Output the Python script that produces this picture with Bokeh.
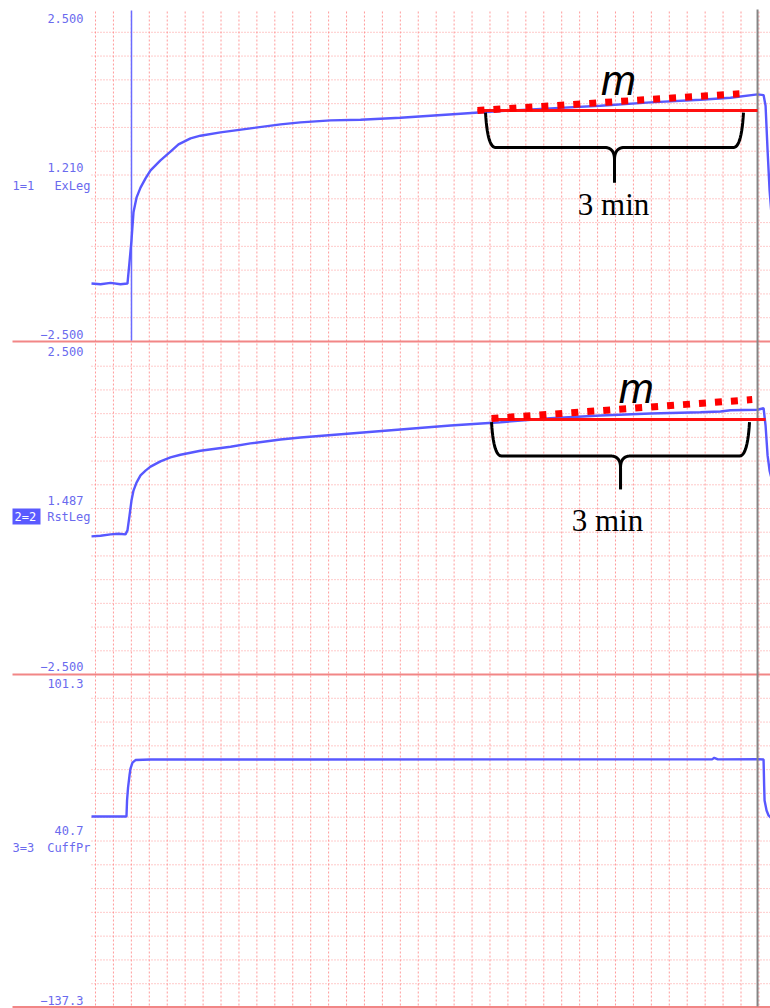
import numpy as np
from bokeh.plotting import figure
from bokeh.models import Range1d
from bokeh.core.properties import value
from bokeh.embed import file_html
from bokeh.resources import INLINE

# ---------------- data ----------------
# Channel 1: ExLeg (time s, signal)
ex_t = [0.0, 6.3, 13.3, 20.2, 25.1, 26.5, 27.9, 29.3, 31.4, 34.2, 37.7, 41.2, 48.1, 55.1, 60.7,
        69.1, 76.0, 90.0, 110.9, 131.9, 145.8, 166.8, 187.7, 215.6, 236.5, 257.5, 285.4, 320.2,
        355.1, 390.0, 424.9, 445.8, 464.7, 468.9, 470.3, 471.7, 473.1, 474.5]
ex_v = [-1.63, -1.64, -1.62, -1.64, -1.63, -1.31, -0.98, -0.56, -0.34, -0.19, -0.05, 0.07, 0.22,
        0.35, 0.46, 0.55, 0.59, 0.64, 0.70, 0.76, 0.79, 0.82, 0.83, 0.86, 0.89, 0.92, 0.96, 1.00,
        1.04, 1.09, 1.13, 1.16, 1.21, 1.20, 1.04, 0.37, -0.23, -0.61]

# Channel 2: RstLeg
rs_t = [0.0, 6.3, 13.3, 18.8, 23.7, 25.1, 26.5, 27.9, 29.3, 31.4, 34.2, 37.7, 41.2, 48.1, 55.1,
        62.1, 76.0, 97.0, 110.9, 131.9, 145.8, 180.7, 215.6, 250.5, 285.4, 320.2, 355.1, 390.0,
        424.9, 438.9, 445.8, 464.7, 468.9, 470.3, 471.7, 473.1, 474.5]
rs_v = [-0.42, -0.41, -0.39, -0.38, -0.39, -0.33, -0.11, 0.12, 0.27, 0.39, 0.50, 0.57, 0.63, 0.71,
        0.77, 0.81, 0.87, 0.93, 0.98, 1.04, 1.07, 1.13, 1.19, 1.25, 1.30, 1.36, 1.40, 1.43, 1.45,
        1.46, 1.48, 1.487, 1.51, 1.25, 0.80, 0.57, 0.45]

# Channel 3: CuffPr
cp_t = [0.0, 24.4, 24.8, 25.5, 26.5, 27.2, 28.6, 30.7, 41.2, 145.8, 300.0, 433.0, 434.5, 437.0,
        464.7, 468.9, 469.3, 469.6, 471.0, 472.4, 474.5]
cp_v = [-0.4, -0.4, 11.0, 20.3, 28.9, 33.9, 38.2, 40.0, 40.4, 40.4, 40.5, 40.5, 41.6, 40.5,
        40.7, 40.4, 21.8, 11.0, 3.9, 0.3, -1.9]

# channel scales and labels
ch_top = [2.5, 2.5, 101.3]
ch_bot = [-2.5, -2.5, -137.3]
top_labels = ["2.500", "2.500", "101.3"]
mid_labels = ["1.210", "1.487", "40.7"]
bot_labels = ["\u22122.500", "\u22122.500", "\u2212137.3"]
ch_ids = ["1=1", "2=2", "3=3"]
ch_names = ["ExLeg", "RstLeg", "CuffPr"]

event_t = 27.9      # event marker (channel 1)
cursor_t = 464.7    # cursor

# slope annotations: [channel1, channel2]
fit_t0 = [269.3, 279.1]
fit_t1 = [464.7, 470.3]
fit_v = [0.968, 1.34]
slope_t0 = [269.3, 279.1]
slope_t1 = [452.1, 461.0]
slope_v0 = [0.968, 1.355]
slope_v1 = [1.22, 1.64]
brace_t0 = [274.9, 279.1]
brace_t1 = [454.9, 459.1]
brace_top = [0.938, 1.30]
brace_bot = [0.413, 0.79]
brace_tip = [-0.113, 0.29]
m_pos = [(367.7, 1.419), (380.0, 1.81)]
min_pos = [(364.2, -0.443), (360.0, -0.18)]
brace_text = "3 min"

# ---------------- layout ----------------
W, H = 770, 1008
SPP = 0.6977                     # seconds per pixel
LEFT = 91                        # left edge of chart area (px)
T0 = -LEFT * SPP
T1 = T0 + W * SPP
panels = [(8, 341), (342, 674), (674, 1007)]   # pixel rows (top, bottom)
GRID_T0, GRID_DT, NGRID_X = 2.8, 12.51, 38
NDIV = 14

p = figure(width=W, height=H, x_range=Range1d(T0, T1), y_range=Range1d(H, 0),
           x_axis_type=None, y_axis_type=None, output_backend="svg",
           toolbar_location=None, min_border=0)
p.outline_line_color = None
p.background_fill_color = "white"
p.border_fill_color = "white"
p.extra_x_ranges = {"px": Range1d(0, W)}
for i, (top, bot) in enumerate(panels):
    upp = (ch_top[i] - ch_bot[i]) / (bot - top)
    p.extra_y_ranges[f"c{i}"] = Range1d(ch_bot[i] - (H - bot) * upp, ch_top[i] + top * upp)

GRID = "#ff8a8a"
# vertical grid
gx = [GRID_T0 + k * GRID_DT for k in range(NGRID_X)]
p.segment(x0=gx, x1=gx, y0=[11] * len(gx), y1=[1006] * len(gx), line_color=GRID,
          line_width=1, line_dash="2 2", line_alpha=0.85)
# horizontal grid
hy = []
for top, bot in panels:
    hy += [top + k * (bot - top) / NDIV for k in range(1, NDIV)]
p.segment(x0=[LEFT] * len(hy), x1=[W] * len(hy), y0=hy, y1=hy, x_range_name="px",
          line_color=GRID, line_width=1, line_dash="1 2", line_alpha=0.9)
# separators
sep_y = [341, 674, 1006.5]
p.segment(x0=[12] * 3, x1=[W] * 3, y0=sep_y, y1=sep_y, x_range_name="px",
          line_color="#f28686", line_width=2)

# event marker and cursor
p.segment(x0=[event_t], x1=[event_t], y0=[10], y1=[340], line_color="#6b6bff", line_width=1.5)

TRACE = "#5858ff"
for i, (t, v) in enumerate([(ex_t, ex_v), (rs_t, rs_v), (cp_t, cp_v)]):
    p.line(t, v, y_range_name=f"c{i}", line_color=TRACE, line_width=2.4)

p.segment(x0=[cursor_t], x1=[cursor_t], y0=[9], y1=[1006], line_color="#858585", line_width=2)

# labels
LBL = "#6a6aee"
lab_kw = dict(x_range_name="px", text_font=value("DejaVu Sans Mono"), text_font_size="12px",
              text_baseline="middle")
ty = [18, 351, 683]
my = [167, 500, 830]
by = [334, 666, 1000]
iy = [185, 516, 847]
p.text(x=[83] * 3, y=ty, text=top_labels, text_align="right", text_color=LBL, **lab_kw)
p.text(x=[83] * 3, y=my, text=mid_labels, text_align="right", text_color=LBL, **lab_kw)
p.text(x=[83] * 3, y=by, text=bot_labels, text_align="right", text_color=LBL, **lab_kw)
p.quad(left=[12], right=[40], top=[508], bottom=[524], x_range_name="px",
       fill_color="#5a5aff", line_color=None)
p.text(x=[12, 14, 12], y=iy, text=ch_ids, text_align="left",
       text_color=[LBL, "white", LBL], **lab_kw)
p.text(x=[90] * 3, y=iy, text=ch_names, text_align="right", text_color=LBL, **lab_kw)


def qbez(p0, p1, p2, n=14):
    s = np.linspace(0, 1, n)
    x = (1 - s) ** 2 * p0[0] + 2 * (1 - s) * s * p1[0] + s ** 2 * p2[0]
    y = (1 - s) ** 2 * p0[1] + 2 * (1 - s) * s * p1[1] + s ** 2 * p2[1]
    return list(x), list(y)


for i in range(2):
    yr = f"c{i}"
    # red fitted horizontal line and dotted slope line
    p.line([fit_t0[i], fit_t1[i]], [fit_v[i], fit_v[i]], y_range_name=yr,
           line_color="#ff1010", line_width=3)
    p.line([slope_t0[i], slope_t1[i]], [slope_v0[i], slope_v1[i]], y_range_name=yr,
           line_color="#ff0000", line_width=7, line_dash="7 9")
    # curly brace
    a, b = brace_t0[i], brace_t1[i]
    tm = (a + b) / 2
    vt, vb, vp = brace_top[i], brace_bot[i], brace_tip[i]
    ct = 10 * SPP
    vmid = vb - 0.35 * (vb - vp)
    lx, ly = qbez((a, vt), (a + 2 * SPP, vb), (a + ct, vb))
    cx, cy = qbez((tm - ct, vb), (tm, vb), (tm, vmid))
    p.line(lx + cx + [tm], ly + cy + [vp], y_range_name=yr, line_color="black", line_width=3)
    rx, ry = qbez((b, vt), (b - 2 * SPP, vb), (b - ct, vb))
    cx2, cy2 = qbez((tm + ct, vb), (tm, vb), (tm, vmid))
    p.line(rx + cx2 + [tm], ry + cy2 + [vp], y_range_name=yr, line_color="black", line_width=3)
    p.text(x=[m_pos[i][0]], y=[m_pos[i][1]], text=["m"], y_range_name=yr,
           text_font=value("Liberation Sans"), text_font_style="italic", text_font_size="42px",
           text_align="center", text_baseline="middle", text_color="black")
    p.text(x=[min_pos[i][0]], y=[min_pos[i][1]], text=[brace_text], y_range_name=yr,
           text_font=value("Liberation Serif"), text_font_size="31px",
           text_align="center", text_baseline="middle", text_color="black")

open("out.html", "w").write(file_html(p, INLINE))
